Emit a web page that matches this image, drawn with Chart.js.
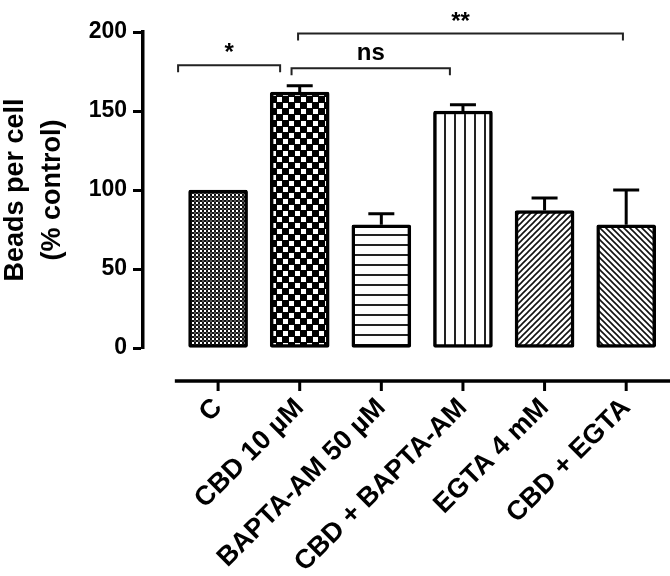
<!DOCTYPE html>
<html>
<head>
<meta charset="utf-8">
<script src="https://cdn.jsdelivr.net/npm/chart.js@4.4.1/dist/chart.umd.min.js"></script>
<style>
    html, body { margin: 0; padding: 0; background: #fff; }
    #wrap { width: 670px; height: 576px; }
</style>
</head>
<body>
<div id="wrap"><canvas id="beadsChart" width="670" height="576"></canvas></div>
<script>
    // Data
    const categories = ['C', 'CBD 10 µM', 'BAPTA-AM 50 µM', 'CBD + BAPTA-AM', 'EGTA 4 mM', 'CBD + EGTA'];
    const means = [100, 162, 78, 150, 87, 78];
    const errUp = [0, 4, 7, 4, 8, 22];
    const yTicks = [0, 50, 100, 150, 200];

    // Significance brackets (category units)
    const sigFrom = [-0.49, 0.9, 0.98];
    const sigTo = [0.76, 2.84, 4.96];
    const sigLevel = [179, 177, 199];
    const sigText = ['*', 'ns', '**'];

    const FONT = "'Liberation Sans', Arial, sans-serif";

    // Build fill patterns for the bars
    function makePattern(size, draw) {
        const c = document.createElement('canvas');
        c.width = size;
        c.height = size;
        const g = c.getContext('2d');
        g.fillStyle = '#fff';
        g.fillRect(0, 0, size, size);
        draw(g, size);
        return document.createElement('canvas').getContext('2d').createPattern(c, 'repeat');
    }

    const patterns = [
        // fine checker
        makePattern(4, function(g) {
            g.fillStyle = '#111';
            g.fillRect(0, 0, 2, 2);
            g.fillRect(2, 2, 2, 2);
            g.fillStyle = '#555';
            g.fillRect(2, 0, 2, 2);
        }),
        // coarse checker
        makePattern(12, function(g) {
            g.fillStyle = '#000';
            g.fillRect(0, 0, 12, 12);
            g.fillStyle = '#fff';
            g.fillRect(1, 1, 5, 5);
            g.fillRect(7, 7, 5, 5);
        }),
        // horizontal lines
        makePattern(10, function(g) {
            g.fillStyle = '#222';
            g.fillRect(0, 4, 10, 2);
        }),
        // vertical lines
        makePattern(10, function(g) {
            g.fillStyle = '#222';
            g.fillRect(4, 0, 2, 10);
        }),
        // diagonal "/"
        makePattern(6, function(g, s) {
            g.strokeStyle = '#111';
            g.lineWidth = 1.6;
            g.beginPath();
            g.moveTo(-1, s + 1); g.lineTo(s + 1, -1);
            g.moveTo(-1, 1); g.lineTo(1, -1);
            g.moveTo(s - 1, s + 1); g.lineTo(s + 1, s - 1);
            g.stroke();
        }),
        // diagonal "\"
        makePattern(6, function(g, s) {
            g.strokeStyle = '#111';
            g.lineWidth = 1.6;
            g.beginPath();
            g.moveTo(-1, -1); g.lineTo(s + 1, s + 1);
            g.moveTo(s - 1, -1); g.lineTo(s + 1, 1);
            g.moveTo(-1, s - 1); g.lineTo(1, s + 1);
            g.stroke();
        })
    ];

    // Error bars, detached x axis and significance brackets
    const extrasPlugin = {
        id: 'extras',
        afterDatasetsDraw(chart) {
            const ctx = chart.ctx;
            const xs = chart.scales.x;
            const ys = chart.scales.y;
            const area = chart.chartArea;
            ctx.save();
            ctx.strokeStyle = '#000';
            ctx.lineCap = 'butt';

            // error bars (upper only)
            ctx.lineWidth = 3;
            means.forEach(function(m, i) {
                if (!errUp[i]) return;
                const x = xs.getPixelForValue(i);
                const y0 = ys.getPixelForValue(m);
                const y1 = ys.getPixelForValue(m + errUp[i]);
                ctx.beginPath();
                ctx.moveTo(x, y0);
                ctx.lineTo(x, y1);
                ctx.moveTo(x - 13, y1);
                ctx.lineTo(x + 13, y1);
                ctx.stroke();
            });

            // x axis drawn below the y axis origin
            const axisY = area.bottom + 33;
            ctx.lineWidth = 3.5;
            ctx.beginPath();
            ctx.moveTo(xs.getPixelForValue(-0.53), axisY);
            ctx.lineTo(xs.getPixelForValue(5.55), axisY);
            ctx.stroke();
            ctx.lineWidth = 3;
            categories.forEach(function(c, i) {
                const x = xs.getPixelForValue(i);
                ctx.beginPath();
                ctx.moveTo(x, axisY);
                ctx.lineTo(x, axisY + 10);
                ctx.stroke();
            });

            // significance brackets
            ctx.lineWidth = 2;
            ctx.strokeStyle = '#222';
            ctx.fillStyle = '#000';
            ctx.textAlign = 'center';
            ctx.textBaseline = 'alphabetic';
            ctx.font = 'bold 24px ' + FONT;
            sigText.forEach(function(t, i) {
                const xa = xs.getPixelForValue(sigFrom[i]);
                const xb = xs.getPixelForValue(sigTo[i]);
                const y = ys.getPixelForValue(sigLevel[i]);
                ctx.beginPath();
                ctx.moveTo(xa, y + 7);
                ctx.lineTo(xa, y);
                ctx.lineTo(xb, y);
                ctx.lineTo(xb, y + 7);
                ctx.stroke();
                ctx.fillText(t, (xa + xb) / 2, t === 'ns' ? y - 8 : y - 5);
            });
            ctx.restore();
        }
    };

    const ctx = document.getElementById('beadsChart').getContext('2d');
    const chart = new Chart(ctx, {
        type: 'bar',
        data: {
            datasets: [{
                data: means.map(function(v, i) { return { x: i, y: v }; }),
                backgroundColor: patterns,
                borderColor: '#000',
                borderWidth: 3.5,
                borderRadius: 2,
                borderSkipped: false,
                barThickness: 59
            }]
        },
        options: {
            responsive: false,
            animation: false,
            layout: {
                padding: { top: 32, right: 3, left: 0, bottom: 0 }
            },
            plugins: {
                legend: { display: false },
                tooltip: { enabled: false }
            },
            scales: {
                x: {
                    type: 'linear',
                    position: 'bottom',
                    offset: false,
                    min: -0.92,
                    max: 5.5,
                    afterFit: function(scale) {
                        scale.height = 228;
                        scale.paddingLeft = 0;
                        scale.paddingRight = 0;
                    },
                    grid: { display: false, drawTicks: false, offset: false },
                    border: { display: false },
                    ticks: {
                        stepSize: 1,
                        includeBounds: false,
                        autoSkip: false,
                        minRotation: 45,
                        maxRotation: 45,
                        padding: 44,
                        color: '#000',
                        font: { family: FONT, size: 27, weight: 'bold' },
                        callback: function(v) { return categories[v] !== undefined ? categories[v] : ''; }
                    }
                },
                y: {
                    min: 0,
                    max: 200,
                    afterFit: function(scale) { scale.width = 143; },
                    afterBuildTicks: function(scale) {
                        scale.ticks = yTicks.map(function(v) { return { value: v }; });
                    },
                    grid: {
                        drawOnChartArea: false,
                        drawTicks: true,
                        tickLength: 10,
                        tickWidth: 3,
                        color: '#000'
                    },
                    border: { display: true, width: 3.5, color: '#000' },
                    ticks: {
                        padding: 6,
                        color: '#000',
                        font: { family: FONT, size: 23, weight: 'bold' }
                    },
                    title: {
                        display: true,
                        text: ['Beads per cell', '(% control)'],
                        color: '#000',
                        padding: { top: -3, bottom: 0 },
                        font: { family: FONT, size: 27, weight: 'bold', lineHeight: 1.37 }
                    }
                }
            }
        },
        plugins: [extrasPlugin]
    });
</script>
</body>
</html>
